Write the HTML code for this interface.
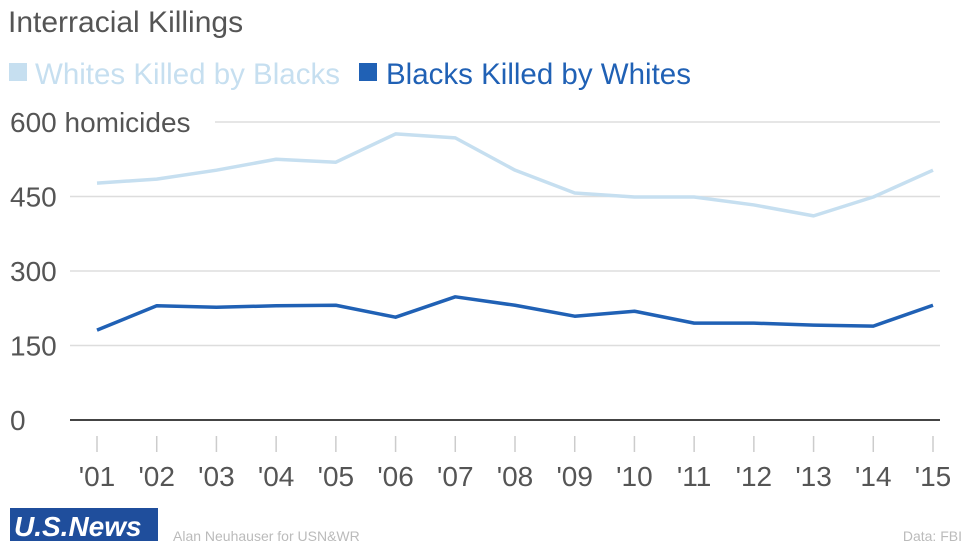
<!DOCTYPE html>
<html><head><meta charset="utf-8"><style>
body{margin:0;background:#fff;font-family:"Liberation Sans",sans-serif;}
svg text{font-family:"Liberation Sans",sans-serif;}
</style></head><body>
<svg id="chart" width="970" height="546">
<text x="8" y="32" font-size="30" fill="#555">Interracial Killings</text>
<g>
<rect x="9" y="63" width="18" height="18" fill="#c6dff0"/>
<text x="35" y="84" font-size="29.5" fill="#c6dff0">Whites Killed by Blacks</text>
<rect x="359" y="63" width="18" height="18" fill="#2061b5"/>
<text x="386" y="84" font-size="29.5" fill="#2061b5">Blacks Killed by Whites</text>
</g>
<g id="grid"></g><g id="xaxis"></g><g id="series"></g>
<g>
<rect x="10" y="508" width="148" height="33" fill="#1f4e9c"/>
<text x="14" y="536" font-size="28" font-weight="bold" fill="#fff" font-style="italic">U.S.News</text>
</g>
<text x="173" y="541" font-size="14" fill="#bbb">Alan Neuhauser for USN&amp;WR</text>
<text x="962" y="541" font-size="14" fill="#bbb" text-anchor="end">Data: FBI</text>
</svg>
<script>
const years=["'01","'02","'03","'04","'05","'06","'07","'08","'09","'10","'11","'12","'13","'14","'15"];
const whitesKilledByBlacks=[477,485,503,525,519,576,568,503,457,449,449,433,411,449,503];
const blacksKilledByWhites=[181,230,227,230,231,207,248,231,209,219,195,195,191,189,231];
const yTicks=[0,150,300,450,600];
const yTickLabels=["0","150","300","450","600 homicides"];
const NS="http://www.w3.org/2000/svg";
const x=i=>97+i*(933-97)/(years.length-1);
const y=v=>420-v*(420-122)/600;
function mk(t,a,p){const e=document.createElementNS(NS,t);for(const k in a)e.setAttribute(k,a[k]);p.appendChild(e);return e;}
const grid=document.getElementById('grid');
yTicks.forEach((t,i)=>{
  const lab=yTickLabels[i];
  const x0=lab.length>4?215:70;
  const l=mk('line',{x1:x0,x2:940,y1:y(t),y2:y(t),stroke:t===0?'#444':'#ddd','stroke-width':t===0?2:1.5},grid);
  
  
  const tx=mk('text',{x:10,y:y(t)+10,'font-size':28,fill:'#555'},grid);
  tx.textContent=lab;
  
  
});
const xa=document.getElementById('xaxis');
years.forEach((yr,i)=>{
  const l=mk('line',{x1:x(i),x2:x(i),y1:436,y2:452,stroke:'#ccc','stroke-width':1.5},xa);
  
  
  const t=mk('text',{x:x(i),y:486,'font-size':28,fill:'#555','text-anchor':'middle'},xa);
  t.textContent=yr;
  
  
});
const s=document.getElementById('series');
[[whitesKilledByBlacks,'#c6dff0','line-whites-killed-by-blacks'],[blacksKilledByWhites,'#2061b5','line-blacks-killed-by-whites']].forEach(([d,c,n])=>{
  const p=mk('polyline',{points:d.map((v,i)=>x(i)+','+y(v)).join(' '),fill:'none',stroke:c,'stroke-width':3.5,'stroke-linejoin':'round'},s);
  
  
});
</script>
</body></html>
